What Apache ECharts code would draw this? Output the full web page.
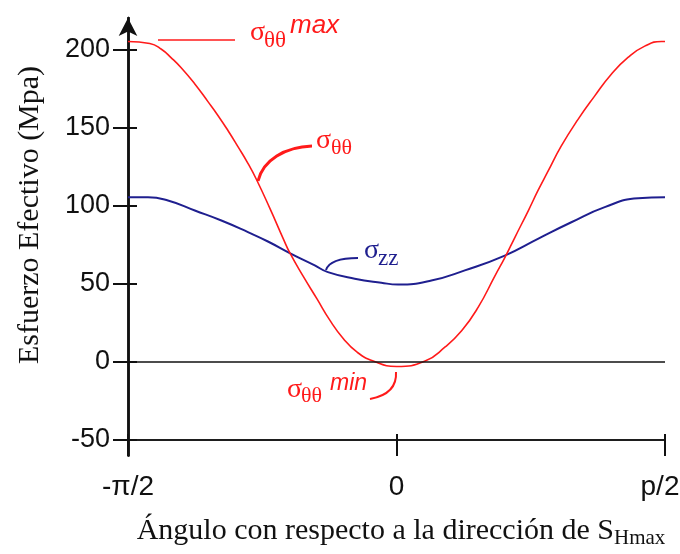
<!DOCTYPE html>
<html>
<head>
<meta charset="utf-8">
<script src="https://cdn.jsdelivr.net/npm/echarts@6/dist/echarts.min.js"></script>
<style>html,body{margin:0;padding:0;background:#fff}#c{width:680px;height:554px}</style>
</head>
<body>
<div id="c"></div>
<script>
// Angle in degrees relative to SHmax (-90 = -π/2, 90 = π/2)
const angleTT = [-90,-82.7,-78.8,-75.5,-72.1,-67.6,-63.2,-59.8,-56.5,-53.1,-49.8,-46.9,-42.4,-37.9,-35.7,-31.2,-26.7,-22.3,-17.8,-13.3,-7.8,0,9.6,16.3,21.9,27.4,33.0,36.4,39.7,44.2,47.4,50.8,55.2,60.8,66.4,72.0,77.6,83.2,88.8,90];
const sigmaTT = [205,203.7,200,194.5,188,177.8,166.5,157.5,148,137.5,127,116.5,98,78.5,69.5,54.5,40.4,26.5,14.8,6.3,0.5,-3,0.5,9.5,20,35,55,67,79.7,96.8,109.5,122,138,155,170,184,194.8,202,205,205];
const angleZZ = [-90,-83.3,-76.6,-67.6,-58.7,-49.8,-43.1,-35.3,-27.4,-23.0,-14.0,-5.1,0.5,11.7,22.9,36.3,47.4,58.6,69.8,81.0,90];
const sigmaZZ = [105.3,105.3,103.2,96.8,90.4,83,77,69.1,61.7,57.4,53.2,50.6,49.5,52,58.5,68,78.7,89.3,99,104.7,105.3];
const xTickValues = [-90, 0, 90];
const xTickLabels = ['-π/2', '0', 'p/2'];
const yTickValues = [-50, 0, 50, 100, 150, 200];

const pairs = (xs, ys) => xs.map((x, i) => [x, ys[i]]);
const RED = '#ff1a1a', BLUE = '#1f1f8f', INK = '#111';
const serif = "'Liberation Serif', 'DejaVu Serif', serif";
const sans = "'Liberation Sans', Arial, sans-serif";

const chart = echarts.init(document.getElementById('c'), null, {renderer: 'canvas'});
const gridBox = {left: 128, right: 15, top: 18, bottom: 98.4, containLabel: false, outerBoundsMode: 'none'};
const yBase = {
  type: 'value', min: -60, max: 220, position: 'left', splitLine: {show: false}
};
const xBase = {
  type: 'value', min: -90, max: 90, interval: 90, position: 'bottom', offset: -15.6, splitLine: {show: false}
};
chart.setOption({
  animation: false,
  backgroundColor: '#fff',
  grid: [Object.assign({}, gridBox), Object.assign({}, gridBox)],
  xAxis: [
    Object.assign({}, xBase, {
      gridIndex: 0,
      axisLine: {show: true, onZero: false, lineStyle: {color: INK, width: 1.5}},
      axisTick: {show: true, inside: false, length: 16, lineStyle: {color: INK, width: 2}, customValues: xTickValues},
      axisLabel: {show: true, margin: 33, fontFamily: sans, fontSize: 28, color: INK,
        customValues: xTickValues,
        formatter: v => {
          const i = xTickValues.indexOf(v);
          return i === xTickValues.length - 1 ? '{r|' + xTickLabels[i] + '}' : xTickLabels[i];
        },
        rich: {r: {fontFamily: sans, fontSize: 28, color: INK, padding: [0, 10, 0, 0]}}}
    }),
    Object.assign({}, xBase, {
      gridIndex: 1,
      axisLine: {show: true, onZero: false, lineStyle: {color: INK, width: 1.5}},
      axisTick: {show: true, inside: true, length: 6, lineStyle: {color: INK, width: 2}, customValues: xTickValues},
      axisLabel: {show: false}
    })
  ],
  yAxis: [
    Object.assign({}, yBase, {
      gridIndex: 0,
      axisLine: {show: true, onZero: false, symbol: ['none', 'arrow'], symbolSize: [14, 18], lineStyle: {color: INK, width: 2.5}},
      axisTick: {show: true, inside: false, length: 15, lineStyle: {color: INK, width: 2}, customValues: yTickValues},
      axisLabel: {show: true, margin: 18, fontFamily: sans, fontSize: 27, color: INK, customValues: yTickValues}
    }),
    Object.assign({}, yBase, {
      gridIndex: 1,
      axisLine: {show: true, onZero: false, lineStyle: {color: INK, width: 2.5}},
      axisTick: {show: true, inside: true, length: 9, lineStyle: {color: INK, width: 2}, customValues: yTickValues},
      axisLabel: {show: false}
    })
  ],
  series: [
    {
      name: 'σθθ', type: 'line', xAxisIndex: 0, yAxisIndex: 0, data: pairs(angleTT, sigmaTT), smooth: 0.5, showSymbol: false,
      lineStyle: {color: RED, width: 1.6}, z: 3,
      markLine: {silent: true, symbol: 'none', label: {show: false},
        lineStyle: {color: INK, width: 1.5, type: 'solid'}, data: [{yAxis: 0}]}
    },
    {
      name: 'σzz', type: 'line', xAxisIndex: 0, yAxisIndex: 0, data: pairs(angleZZ, sigmaZZ), smooth: 0.5, showSymbol: false,
      lineStyle: {color: BLUE, width: 2}, z: 2
    },
    {
      name: 'ticks', type: 'line', xAxisIndex: 1, yAxisIndex: 1, data: [], silent: true, showSymbol: false
    }
  ],
  graphic: [
    // y axis title
    {type: 'text', x: 30, y: 215, rotation: Math.PI / 2,
      style: {text: 'Esfuerzo Efectivo (Mpa)', font: `30px ${serif}`, fill: INK, align: 'center', verticalAlign: 'middle'}},
    // x axis title
    {type: 'text', x: 401, y: 531,
      style: {text: '{a|Ángulo con respecto a la dirección de S}{b|Hmax}', align: 'center', verticalAlign: 'middle',
        rich: {
          a: {fontFamily: serif, fontSize: 30, fill: INK, lineHeight: 36, verticalAlign: 'middle'},
          b: {fontFamily: serif, fontSize: 21, fill: INK, lineHeight: 36, verticalAlign: 'bottom'}
        }}},
    // σθθ max annotation
    {type: 'line', shape: {x1: 158, y1: 40, x2: 235, y2: 40}, style: {stroke: RED, lineWidth: 1.5}},
    {type: 'text', x: 250, y: 33, style: {text: 'σ', font: `28px ${serif}`, fill: RED, verticalAlign: 'middle'}},
    {type: 'text', x: 264, y: 41, style: {text: 'θθ', font: `23px ${serif}`, fill: RED, verticalAlign: 'middle'}},
    {type: 'text', x: 290, y: 26, style: {text: 'max', font: `italic 26px ${sans}`, fill: RED, verticalAlign: 'middle'}},
    // σθθ annotation
    {type: 'bezierCurve', shape: {x1: 258, y1: 181, cpx1: 263, cpy1: 160, cpx2: 285, cpy2: 147, x2: 312, y2: 146},
      style: {stroke: RED, lineWidth: 3, fill: null}},
    {type: 'text', x: 316, y: 141, style: {text: 'σ', font: `28px ${serif}`, fill: RED, verticalAlign: 'middle'}},
    {type: 'text', x: 331, y: 148, style: {text: 'θθ', font: `22px ${serif}`, fill: RED, verticalAlign: 'middle'}},
    // σzz annotation
    {type: 'bezierCurve', shape: {x1: 326, y1: 270, cpx1: 329, cpy1: 261, cpx2: 340, cpy2: 258, x2: 358, y2: 258},
      style: {stroke: BLUE, lineWidth: 2, fill: null}},
    {type: 'text', x: 364, y: 251, style: {text: 'σ', font: `28px ${serif}`, fill: BLUE, verticalAlign: 'middle'}},
    {type: 'text', x: 378, y: 259, style: {text: 'zz', font: `23px ${serif}`, fill: BLUE, verticalAlign: 'middle'}},
    // σθθ min annotation
    {type: 'bezierCurve', shape: {x1: 396, y1: 372, cpx1: 397, cpy1: 388, cpx2: 386, cpy2: 396, x2: 370, y2: 399},
      style: {stroke: RED, lineWidth: 2, fill: null}},
    {type: 'text', x: 287, y: 390, style: {text: 'σ', font: `28px ${serif}`, fill: RED, verticalAlign: 'middle'}},
    {type: 'text', x: 301, y: 396, style: {text: 'θθ', font: `22px ${serif}`, fill: RED, verticalAlign: 'middle'}},
    {type: 'text', x: 330, y: 384, style: {text: 'min', font: `italic 23px ${sans}`, fill: RED, verticalAlign: 'middle'}}
  ]
});
</script>
</body>
</html>
